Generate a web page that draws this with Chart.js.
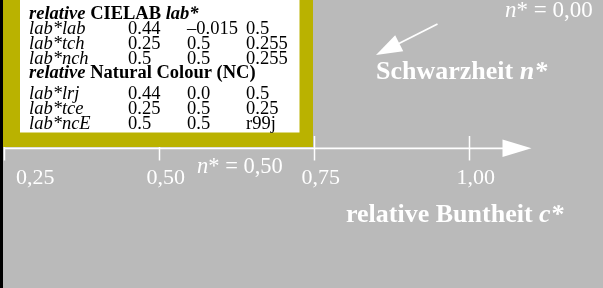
<!DOCTYPE html>
<html>
<head>
<meta charset="utf-8">
<script src="https://cdn.jsdelivr.net/npm/chart.js@4"></script>
<style>
html,body{margin:0;padding:0;background:#bababa;overflow:hidden;}
#wrap{width:603px;height:288px;position:relative;}
</style>
</head>
<body>
<div id="wrap"><canvas id="c" width="603" height="288"></canvas></div>
<script>
// ---- data ----
const cTicks = [0.25, 0.50, 0.75, 1.00];
const cTickLabels = ["0,25", "0,50", "0,75", "1,00"];
const nLabels = ["n* = 0,00", "n* = 0,50"];
const axisTitle = "relative Buntheit";
const blacknessTitle = "Schwarzheit";
const cielabRowNames = ["lab*lab", "lab*tch", "lab*nch"];
const cielabCol1 = ["0.44", "0.25", "0.5"];
const cielabCol2 = ["\u20130.015", "0.5", "0.5"];
const cielabCol3 = ["0.5", "0.255", "0.255"];
const ncRowNames = ["lab*lrj", "lab*tce", "lab*ncE"];
const ncCol1 = ["0.44", "0.25", "0.5"];
const ncCol2 = ["0.0", "0.5", "0.5"];
const ncCol3 = ["0.5", "0.25", "r99j"];

// ---- style ----
const BG = "#bababa", OLIVE = "#bab200", WHITE = "#ffffff", BLACK = "#000000";
const SERIF = "'Liberation Serif', 'Times New Roman', serif";
const pxPerUnit = 620, zeroOffset = 4.5;
const xMin = cTicks[0] - zeroOffset / pxPerUnit;
const xMax = xMin + 603 / pxPerUnit;

function runs(ctx, x, y, parts) {
  for (const [t, f, col] of parts) {
    ctx.font = f; ctx.fillStyle = col;
    ctx.fillText(t, x, y);
    x += ctx.measureText(t).width;
  }
  return x;
}
function arrow(ctx, tailX, tailY, tipX, tipY, len, half) {
  const dx = tipX - tailX, dy = tipY - tailY;
  const L = Math.hypot(dx, dy); const ux = dx / L, uy = dy / L;
  const bx = tipX - ux * len, by = tipY - uy * len;
  ctx.beginPath(); ctx.moveTo(tailX, tailY); ctx.lineTo(bx + ux * 2, by + uy * 2); ctx.stroke();
  ctx.beginPath();
  ctx.moveTo(tipX, tipY);
  ctx.lineTo(bx - uy * half, by + ux * half);
  ctx.lineTo(bx + uy * half, by - ux * half);
  ctx.closePath(); ctx.fill();
}

const figurePlugin = {
  id: "figure",
  beforeDraw(chart) {
    const ctx = chart.ctx;
    ctx.save();
    ctx.fillStyle = BG; ctx.fillRect(0, 0, 603, 288);
    ctx.restore();
  },
  afterDraw(chart) {
    const ctx = chart.ctx, xs = chart.scales.x;
    ctx.save();
    ctx.textBaseline = "alphabetic";
    const axisY = 148.3;
    const x0 = xs.getPixelForValue(cTicks[0]);
    const xEnd = xs.getPixelForValue(1.1);
    // axis line with arrow
    ctx.strokeStyle = WHITE; ctx.fillStyle = WHITE; ctx.lineWidth = 1.8;
    arrow(ctx, x0 - 0.5, axisY, xEnd, axisY, 29, 8.7);
    // ticks
    ctx.lineWidth = 1.5;
    cTicks.forEach(v => {
      const px = xs.getPixelForValue(v);
      ctx.beginPath(); ctx.moveTo(px, 136); ctx.lineTo(px, 160.5); ctx.stroke();
    });
    // olive legend box with white table
    ctx.fillStyle = BLACK; ctx.fillRect(0, 0, 3, 288);
    ctx.fillStyle = OLIVE; ctx.fillRect(3, 0, 310, 147);
    ctx.fillStyle = WHITE; ctx.fillRect(20, 0, 279.5, 132.5);
    // tick labels
    ctx.font = "22px " + SERIF; ctx.fillStyle = WHITE;
    cTicks.forEach((v, i) => {
      const px = xs.getPixelForValue(v);
      const left = Math.max(16, px - 13);
      ctx.fillText(cTickLabels[i], left, 184);
    });
    // n* labels
    const nTxt = (s, x, y, size) => {
      const [a, b] = [s.slice(0, 1), s.slice(1)];
      runs(ctx, x, y, [[a, "italic " + size + "px " + SERIF, WHITE], [b, size + "px " + SERIF, WHITE]]);
    };
    nTxt(nLabels[0], 505, 17, 23);
    nTxt(nLabels[1], 197, 173, 22.5);
    // titles
    runs(ctx, 376, 79, [[blacknessTitle + " ", "bold 26px " + SERIF, WHITE], ["n*", "italic bold 26px " + SERIF, WHITE]]);
    runs(ctx, 346, 222, [[axisTitle + " ", "bold 26px " + SERIF, WHITE], ["c*", "italic bold 26px " + SERIF, WHITE]]);
    // blackness arrow
    ctx.strokeStyle = WHITE; ctx.fillStyle = WHITE; ctx.lineWidth = 1.8;
    arrow(ctx, 437.5, 24, 376, 55, 26, 9);
    // table
    const F = 18.5;
    const bi = "italic bold " + F + "px " + SERIF, b = "bold " + F + "px " + SERIF,
          it = "italic " + F + "px " + SERIF, rg = F + "px " + SERIF;
    const cx = [29, 128, 187, 246];
    runs(ctx, cx[0], 18.5, [["relative ", bi, BLACK], ["CIELAB ", b, BLACK], ["lab*", bi, BLACK]]);
    const yA = [34, 49, 64];
    cielabRowNames.forEach((n, i) => {
      runs(ctx, cx[0], yA[i], [[n, it, BLACK]]);
      runs(ctx, cx[1], yA[i], [[cielabCol1[i], rg, BLACK]]);
      runs(ctx, cx[2], yA[i], [[cielabCol2[i], rg, BLACK]]);
      runs(ctx, cx[3], yA[i], [[cielabCol3[i], rg, BLACK]]);
    });
    runs(ctx, cx[0], 78, [["relative ", bi, BLACK], ["Natural Colour (NC)", b, BLACK]]);
    const yB = [99, 114, 128.5];
    ncRowNames.forEach((n, i) => {
      runs(ctx, cx[0], yB[i], [[n, it, BLACK]]);
      runs(ctx, cx[1], yB[i], [[ncCol1[i], rg, BLACK]]);
      runs(ctx, cx[2], yB[i], [[ncCol2[i], rg, BLACK]]);
      runs(ctx, cx[3], yB[i], [[ncCol3[i], rg, BLACK]]);
    });
    ctx.restore();
  }
};

new Chart(document.getElementById("c"), {
  type: "scatter",
  data: { datasets: [{ data: [], showLine: false, pointRadius: 0 }] },
  options: {
    responsive: false, animation: false, devicePixelRatio: 1,
    layout: { padding: 0 },
    plugins: { legend: { display: false }, tooltip: { enabled: false } },
    scales: {
      x: { type: "linear", min: xMin, max: xMax, display: false },
      y: { type: "linear", min: 0, max: 1, display: false }
    }
  },
  plugins: [figurePlugin]
});
</script>
</body>
</html>
